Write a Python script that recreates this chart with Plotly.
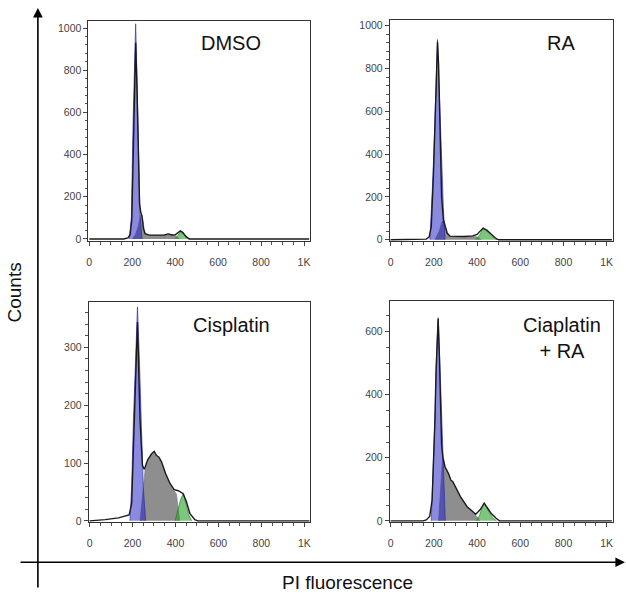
import plotly.graph_objects as go

W, H = 626, 594

# ---------------- data ----------------
panel_titles = ["DMSO", "RA", "Cisplatin", "Ciaplatin<br>+ RA"]
x_tick_vals = [0, 200, 400, 600, 800, 1000]
x_tick_text = ["0", "200", "400", "600", "800", "1K"]

# DMSO
dmso_total_x = [0, 160, 180, 190, 198, 205, 210, 216, 222, 228, 234, 240, 246, 252, 260, 280, 320, 350, 367, 385, 400, 412, 424, 436, 450, 465, 1024]
dmso_total_y = [0, 0, 5, 20, 90, 380, 700, 930, 720, 380, 170, 125, 105, 50, 25, 18, 18, 19, 24, 19, 20, 28, 38, 30, 12, 0, 0]
dmso_g1_x = [186, 196, 204, 210, 216, 222, 228, 236, 246]
dmso_g1_y = [0, 100, 560, 880, 1020, 780, 440, 120, 0]
dmso_s_x = [200, 215, 228, 238, 245, 252, 260, 280, 320, 360, 372, 390, 405, 420]
dmso_s_y = [0, 20, 60, 110, 118, 60, 22, 17, 17, 18, 21, 18, 14, 0]
dmso_g2_x = [398, 410, 424, 440, 455, 470]
dmso_g2_y = [0, 12, 33, 22, 6, 0]

# RA
ra_total_x = [0, 150, 165, 178, 188, 198, 207, 212, 217, 222, 228, 236, 244, 252, 262, 275, 300, 340, 380, 400, 412, 428, 445, 465, 485, 500, 1024]
ra_total_y = [0, 0, 3, 12, 60, 300, 650, 860, 925, 820, 500, 200, 95, 65, 30, 17, 15, 15, 18, 25, 38, 54, 45, 25, 8, 0, 0]
ra_g1_x = [182, 190, 196, 203, 210, 217, 224, 231, 238, 244, 252]
ra_g1_y = [0, 150, 300, 495, 760, 935, 730, 495, 290, 150, 0]
ra_s_x = [205, 225, 238, 246, 254, 265, 280, 320, 360, 390, 405, 420]
ra_s_y = [0, 40, 85, 90, 60, 25, 14, 13, 14, 16, 11, 0]
ra_g2_x = [395, 410, 428, 445, 465, 485, 500]
ra_g2_y = [0, 20, 52, 40, 18, 4, 0]

# Cisplatin
cis_total_x = [0, 73, 134, 184, 196, 209, 223, 235, 246, 255, 270, 289, 301, 312, 323, 335, 354, 374, 394, 413, 436, 451, 467, 490, 505, 1024]
cis_total_y = [0, 2, 5, 10, 30, 173, 344, 173, 96, 89, 105, 116, 120, 113, 110, 102, 82, 65, 54, 52, 47, 33, 13, 2, 0, 0]
cis_g1_x = [188, 196, 204, 214, 223, 232, 240, 250, 261]
cis_g1_y = [0, 59, 173, 290, 370, 280, 173, 59, 0]
cis_s_x = [235, 250, 258, 270, 289, 301, 312, 323, 335, 354, 374, 394, 405, 412, 420]
cis_s_y = [0, 60, 87, 103, 114, 118, 111, 108, 100, 80, 63, 52, 46, 24, 0]
cis_g2_x = [398, 412, 425, 437, 450, 462, 476]
cis_g2_y = [0, 18, 38, 47, 30, 10, 0]

# Cisplatin + RA
cra_total_x = [0, 150, 165, 181, 192, 200, 205, 210, 215, 220, 225, 230, 236, 242, 252, 268, 279, 288, 299, 323, 354, 378, 394, 414, 433, 449, 465, 488, 504, 1024]
cra_total_y = [0, 0, 3, 14, 66, 200, 318, 470, 600, 640, 540, 380, 240, 200, 171, 150, 129, 124, 108, 77, 45, 29, 21, 35, 56, 40, 24, 8, 0, 0]
cra_g1_x = [188, 194, 205, 213, 220, 228, 236, 247, 253]
cra_g1_y = [0, 108, 318, 540, 645, 500, 318, 108, 0]
cra_s_x = [222, 232, 240, 245, 252, 268, 279, 288, 299, 323, 354, 378, 394, 405, 412]
cra_s_y = [0, 120, 195, 200, 170, 148, 127, 122, 106, 75, 43, 27, 19, 10, 0]
cra_g2_x = [398, 410, 422, 433, 445, 460, 475, 490]
cra_g2_y = [0, 15, 38, 58, 42, 22, 8, 0]

y_ranges = [[-11, 1034], [-7, 1026], [-2.5, 379], [-4.5, 697]]
y_major = [200, 200, 100, 200]
y_minor = [40, 40, 20, 50]

# ---------------- layout geometry (pixels) ----------------
boxes = [  # left, right, top, bottom
    (86.7, 309.0, 20.0, 242.3),
    (389.0, 612.7, 19.3, 242.3),
    (87.0, 309.3, 303.3, 525.7),
    (389.0, 612.7, 302.7, 525.7),
]
title_pos = [(229.5, 42.5), (560.5, 42.5), (230.7, 326.7), (562, 340)]

panels = [
    (dmso_total_x, dmso_total_y, dmso_g1_x, dmso_g1_y, dmso_s_x, dmso_s_y, dmso_g2_x, dmso_g2_y),
    (ra_total_x, ra_total_y, ra_g1_x, ra_g1_y, ra_s_x, ra_s_y, ra_g2_x, ra_g2_y),
    (cis_total_x, cis_total_y, cis_g1_x, cis_g1_y, cis_s_x, cis_s_y, cis_g2_x, cis_g2_y),
    (cra_total_x, cra_total_y, cra_g1_x, cra_g1_y, cra_s_x, cra_s_y, cra_g2_x, cra_g2_y),
]

GRAY = "#8e8e8e"
BLUE = "rgba(30,30,195,0.52)"
GREEN = "rgba(40,160,40,0.6)"

fig = go.Figure()
layout = {}
annotations = []
FONT = "Liberation Sans, Arial, sans-serif"
tickfont = dict(family=FONT, size=10.5, color="#444")

for i, (tx, ty, bx, by, sx, sy, gx, gy) in enumerate(panels):
    n = "" if i == 0 else str(i + 1)
    xa, ya = "x" + n, "y" + n
    fig.add_trace(go.Scatter(x=sx, y=sy, xaxis=xa, yaxis=ya, mode="lines", fill="tozeroy",
                             fillcolor=GRAY, line=dict(color="#7a7a7a", width=0.6), hoverinfo="skip"))
    fig.add_trace(go.Scatter(x=bx, y=by, xaxis=xa, yaxis=ya, mode="lines", fill="tozeroy",
                             fillcolor=BLUE, line=dict(color="rgba(40,40,170,0.8)", width=0.8), hoverinfo="skip"))
    fig.add_trace(go.Scatter(x=gx, y=gy, xaxis=xa, yaxis=ya, mode="lines", fill="tozeroy",
                             fillcolor=GREEN, line=dict(color="rgba(30,120,30,0.8)", width=0.8), hoverinfo="skip"))
    fig.add_trace(go.Scatter(x=tx, y=ty, xaxis=xa, yaxis=ya, mode="lines",
                             line=dict(color="#1a1a1a", width=1.4), hoverinfo="skip"))
    l, r, t, b = boxes[i]
    layout["xaxis" + n] = dict(
        domain=[l / W, r / W], anchor=ya, range=[-4, 1028],
        tickvals=x_tick_vals, ticktext=x_tick_text, ticks="outside", ticklen=4,
        tickcolor="#444", showline=True, linecolor="#333", linewidth=1, mirror=True,
        showgrid=False, zeroline=False, tickfont=tickfont, ticklabelstandoff=7,
        minor=dict(dtick=50, tick0=0, ticks="outside", ticklen=2.5, tickcolor="#555", showgrid=False),
    )
    layout["yaxis" + n] = dict(
        domain=[1 - b / H, 1 - t / H], anchor=xa, range=y_ranges[i],
        dtick=y_major[i], tick0=0, ticks="outside", ticklen=4,
        tickcolor="#444", showline=True, linecolor="#333", linewidth=1, mirror=True,
        showgrid=False, zeroline=False, tickfont=tickfont,
        minor=dict(dtick=y_minor[i], tick0=0, ticks="outside", ticklen=2.5, tickcolor="#555", showgrid=False),
    )
    px_, py_ = title_pos[i]
    annotations.append(dict(text=panel_titles[i], x=px_ / W, y=1 - py_ / H, xref="paper", yref="paper",
                            showarrow=False, xanchor="center", yanchor="middle", align="center",
                            font=dict(family=FONT, size=20, color="#111")))

# big axis arrows (tail offsets in pixels)
annotations.append(dict(x=36 / W, y=1 - 7 / H, ax=0, ay=581, xref="paper", yref="paper",
                        axref="pixel", ayref="pixel", showarrow=True, arrowhead=2, arrowsize=1.2,
                        arrowwidth=1.6, arrowcolor="#000", text=""))
annotations.append(dict(x=625 / W, y=1 - 566 / H, ax=-606, ay=0, xref="paper", yref="paper",
                        axref="pixel", ayref="pixel", showarrow=True, arrowhead=2, arrowsize=1.2,
                        arrowwidth=1.6, arrowcolor="#000", text=""))
annotations.append(dict(text="Counts", x=13 / W, y=1 - 294 / H, xref="paper", yref="paper", showarrow=False,
                        textangle=-90, xanchor="center", yanchor="middle",
                        font=dict(family=FONT, size=19, color="#111")))
annotations.append(dict(text="PI fluorescence", x=347 / W, y=1 - 586 / H, xref="paper", yref="paper",
                        showarrow=False, xanchor="center", yanchor="middle",
                        font=dict(family=FONT, size=19, color="#111")))

fig.update_layout(
    width=W, height=H, margin=dict(l=0, r=0, t=0, b=0),
    paper_bgcolor="white", plot_bgcolor="white", showlegend=False,
    annotations=annotations, **layout,
)

fig.write_html("out.html", config={"displayModeBar": False},
               post_script="document.body.style.margin='0';document.body.style.overflow='hidden';")
